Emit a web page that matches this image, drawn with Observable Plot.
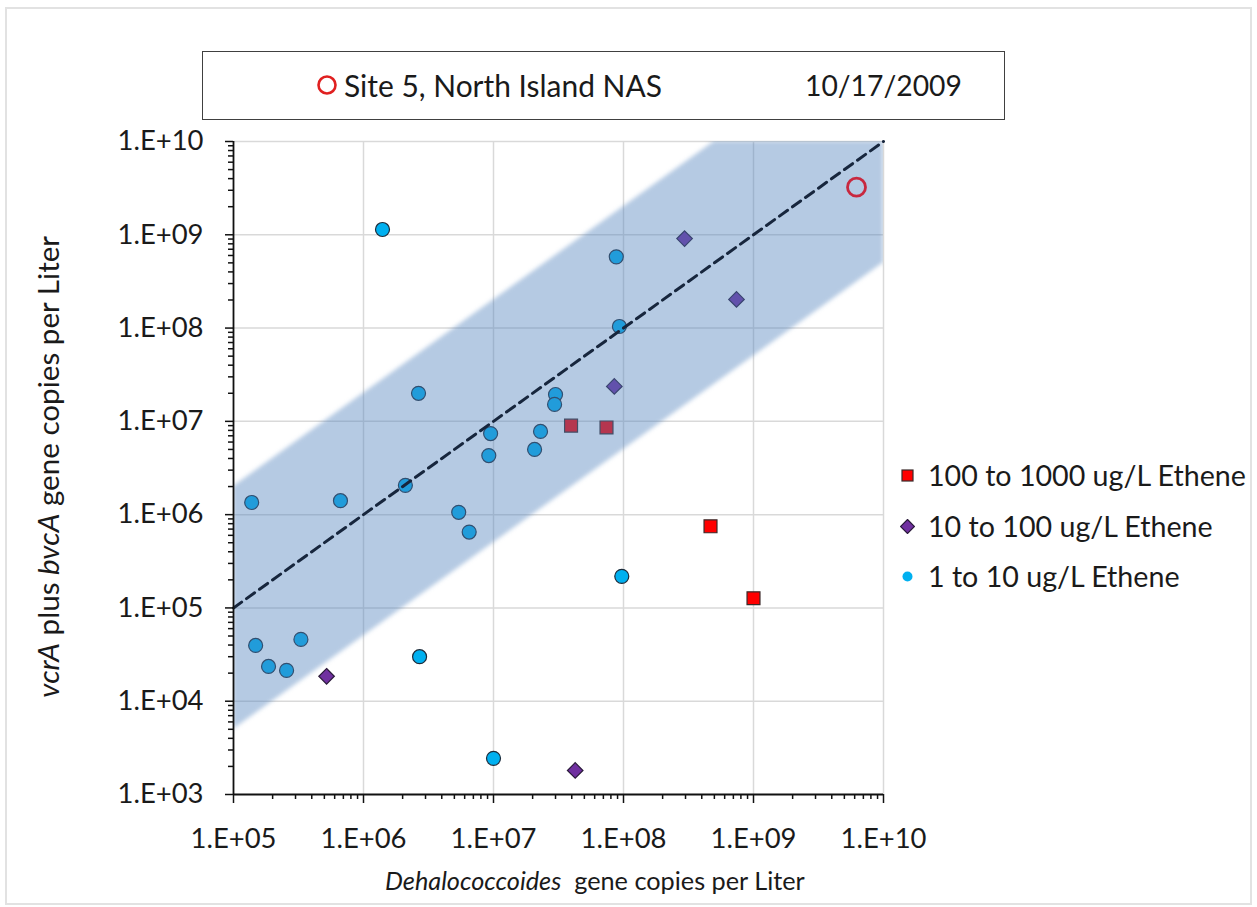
<!DOCTYPE html>
<html><head><meta charset="utf-8">
<script src="https://cdn.jsdelivr.net/npm/d3@7"></script>
<script src="https://cdn.jsdelivr.net/npm/@observablehq/plot@0.6"></script>
<style>
body{margin:0;background:#fff;font-family:Lato,sans-serif;color:#1a1a1a;}
#wrap{position:relative;width:1257px;height:907px;overflow:hidden;}
#wrap svg.plot{position:absolute;left:0;top:0;}
#frame{position:absolute;left:5px;top:7px;width:1247px;height:898px;border:2px solid #e2e2e2;box-sizing:border-box;}
#titlebox{position:absolute;left:202px;top:51px;width:803px;height:69px;border:1.5px solid #404040;box-sizing:border-box;background:#fff;}
.tt{position:absolute;top:51px;height:69px;line-height:69px;white-space:nowrap;}
.leg{position:absolute;left:900px;height:40px;white-space:nowrap;display:flex;align-items:center;}
.leg svg{margin-right:13px;flex:none;}
.lab{position:absolute;white-space:nowrap;line-height:1;}
</style>
</head><body>
<div id="wrap">
  <div id="frame"></div>
</div>
<script>
// ---- data ----
const blueX = [1.4e6, 8.8e7, 9.3e7, 2.65e6, 3.0e7, 2.95e7, 9.5e6, 2.3e7, 9.2e6, 2.07e7, 2.1e6, 6.65e5, 1.38e5, 5.4e6, 6.5e6, 9.7e7, 1.48e5, 3.3e5, 1.86e5, 2.56e5, 2.7e6, 1.0e7];
const blueY = [1.14e9, 5.8e8, 1.04e8, 2.0e7, 1.94e7, 1.52e7, 7.4e6, 7.8e6, 4.3e6, 5.0e6, 2.06e6, 1.41e6, 1.35e6, 1.06e6, 6.5e5, 2.18e5, 3.96e4, 4.6e4, 2.36e4, 2.14e4, 3.0e4, 2.44e3];
const purpleX = [2.95e8, 7.4e8, 8.5e7, 5.2e5, 4.25e7];
const purpleY = [9.1e8, 2.03e8, 2.37e7, 1.85e4, 1.81e3];
const redX = [3.95e7, 7.4e7, 4.67e8, 1.0e9];
const redY = [9.0e6, 8.6e6, 7.5e5, 1.27e5];
const siteX = [6.2e9];
const siteY = [3.24e9];
const lineX = [1e5, 1e10];
const lineY = [1e5, 1e10];
const bandX = [1e5, 5e8, 1e10];
const bandLow = [5e3, 2.5e7, 5e8];
const bandHigh = [2e6, 1e10, 1e10];
const decX = [1e5, 1e6, 1e7, 1e8, 1e9, 1e10];
const decY = [1e3, 1e4, 1e5, 1e6, 1e7, 1e8, 1e9, 1e10];
const legendLabels = ["100 to 1000 ug/L Ethene", "10 to 100 ug/L Ethene", "1 to 10 ug/L Ethene"];
const titleSite = "Site 5, North Island NAS";
const titleDate = "10/17/2009";

const wrap = document.getElementById("wrap");

// fit a text (HTML) to a target width by measuring at 100px
function fitSize(html, target, italic) {
  const probe = document.createElement("span");
  probe.style.cssText = "position:absolute;visibility:hidden;white-space:nowrap;font-family:Lato;font-size:100px;" + (italic ? "font-style:italic;" : "");
  probe.innerHTML = html;
  document.body.appendChild(probe);
  const w = probe.getBoundingClientRect().width;
  probe.remove();
  return 100 * target / w;
}

const minor = (decs) => {
  const out = [];
  for (let i = 0; i < decs.length - 1; i++) for (let m = 2; m <= 9; m++) out.push(decs[i] * m);
  return out;
};
const fmt = d => "1.E+" + String(Math.round(Math.log10(d))).padStart(2, "0");
const idx = a => a.map((_, i) => i);

const tickFs = fitSize("1.E+10", 86);
const xPad = Math.max(10, 35 - 0.35 * tickFs);

const chart = Plot.plot({
  width: 1257, height: 907,
  marginLeft: 233, marginRight: 374, marginTop: 141, marginBottom: 113,
  x: {type: "log", domain: [1e5, 1e10], label: null},
  y: {type: "log", domain: [1e3, 1e10], label: null},
  style: {fontFamily: "Lato", fontSize: tickFs + "px", color: "#1a1a1a", background: "transparent"},
  marks: [
    Plot.ruleX(decX.slice(1), {stroke: "#d9d9d9", strokeWidth: 1.5}),
    Plot.ruleY(decY.slice(1), {stroke: "#d9d9d9", strokeWidth: 1.5}),
    Plot.dot(idx(blueX), {x: blueX, y: blueY, r: 7, fill: "#00b0f0", stroke: "#1d2b3a", strokeWidth: 1.2}),
    Plot.dot(idx(purpleX), {x: purpleX, y: purpleY, r: 7, symbol: "diamond2", fill: "#7030a0", stroke: "#2a1a3a", strokeWidth: 1.2}),
    Plot.dot(idx(redX), {x: redX, y: redY, r: 7.3, symbol: "square", fill: "#ff0000", stroke: "#3a2a2a", strokeWidth: 1.2}),
    Plot.areaY(idx(bandX), {x: bandX, y1: bandLow, y2: bandHigh, fill: "#4f81bd", fillOpacity: 0.42, clip: true, imageFilter: "blur(2px)"}),
    Plot.dot(idx(siteX), {x: siteX, y: siteY, r: 9, fill: "none", stroke: "#c8283f", strokeWidth: 2.8}),
    Plot.line(idx(lineX), {x: lineX, y: lineY, stroke: "#17263d", strokeWidth: 3, strokeDasharray: "10,6"}),
    Plot.axisX(minor(decX), {tickSize: 5, tickFormat: () => "", strokeWidth: 1.5, stroke: "#111"}),
    Plot.axisY(minor(decY), {tickSize: 5, tickFormat: () => "", strokeWidth: 1.5, stroke: "#111"}),
    Plot.axisX(decX, {tickSize: 9, tickPadding: xPad, tickFormat: fmt, strokeWidth: 1.5, stroke: "#111", fontSize: tickFs}),
    Plot.axisY(decY, {tickSize: 8, tickPadding: 22, tickFormat: fmt, strokeWidth: 1.5, stroke: "#111", fontSize: tickFs}),
    Plot.ruleX([1e5], {stroke: "#111", strokeWidth: 1.8}),
    Plot.ruleY([1e3], {stroke: "#111", strokeWidth: 1.8})
  ]
});
chart.classList.add("plot");
wrap.appendChild(chart);

// title box
const tb = document.createElement("div");
tb.id = "titlebox";
wrap.appendChild(tb);
const circ = document.createElementNS("http://www.w3.org/2000/svg", "svg");
circ.setAttribute("width", 24); circ.setAttribute("height", 24);
circ.style.position = "absolute"; circ.style.left = "315px"; circ.style.top = "73px";
circ.innerHTML = '<circle cx="12" cy="12" r="8.5" fill="none" stroke="#e02020" stroke-width="2.6"/>';
wrap.appendChild(circ);
const titleFs = fitSize(titleSite, 318);
const t1 = document.createElement("div"); t1.className = "tt"; t1.textContent = titleSite;
t1.style.left = "344px"; t1.style.fontSize = titleFs + "px"; wrap.appendChild(t1);
const t2 = document.createElement("div"); t2.className = "tt"; t2.textContent = titleDate;
t2.style.left = "805px"; t2.style.fontSize = fitSize(titleDate, 157) + "px"; wrap.appendChild(t2);

// legend
const legSym = [
  '<rect x="2" y="2" width="11" height="11" fill="#ff0000" stroke="#3a2a2a" stroke-width="1.2"/>',
  '<path d="M7.5 0.5 L14.5 7.5 L7.5 14.5 L0.5 7.5 Z" fill="#7030a0" stroke="#2a1a3a" stroke-width="1.2"/>',
  '<circle cx="7.5" cy="7.5" r="5" fill="#00b0f0"/>'
];
const legY = [475, 526, 576];
const legFs = fitSize(legendLabels[0], 318);
legendLabels.forEach((lab, i) => {
  const d = document.createElement("div");
  d.className = "leg";
  d.style.top = (legY[i] - 20) + "px";
  d.style.fontSize = legFs + "px";
  d.innerHTML = '<svg width="15" height="15">' + legSym[i] + '</svg><span>' + lab + '</span>';
  wrap.appendChild(d);
});

// axis titles
const xHtml = "<i>Dehalococcoides</i>&nbsp; gene copies per Liter";
const xl = document.createElement("div");
xl.className = "lab";
xl.innerHTML = xHtml;
xl.style.fontSize = fitSize(xHtml, 420) + "px";
wrap.appendChild(xl);
xl.style.left = (595 - xl.offsetWidth / 2) + "px";
xl.style.top = (880 - xl.offsetHeight / 2) + "px";

const yHtml = "<i>vcrA</i> plus <i>bvcA</i> gene copies per Liter";
const yl = document.createElement("div");
yl.className = "lab";
yl.innerHTML = yHtml;
yl.style.fontSize = fitSize(yHtml, 462) + "px";
wrap.appendChild(yl);
const w = yl.offsetWidth, h = yl.offsetHeight;
yl.style.left = (48 - w / 2) + "px";
yl.style.top = (467 - h / 2) + "px";
yl.style.transform = "rotate(-90deg)";
</script>
</body></html>
